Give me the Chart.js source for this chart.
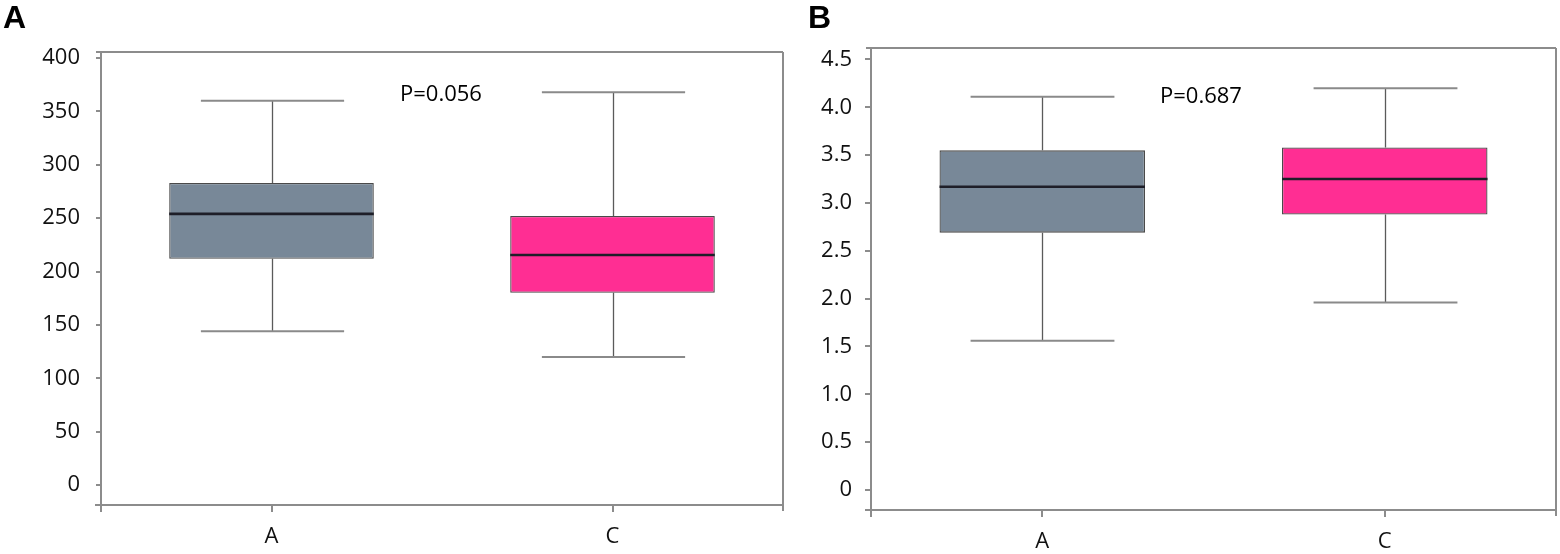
<!DOCTYPE html>
<html><head><meta charset="utf-8">
<script src="https://cdn.jsdelivr.net/npm/chart.js@4.4.1/dist/chart.umd.min.js"></script>
<style>
html,body{margin:0;padding:0;background:#fff;width:1560px;height:554px;overflow:hidden;font-family:"Open Sans",sans-serif}
.wrap{position:absolute;top:0;height:554px}
#wa{left:0;width:790px}
#wb{left:790px;width:770px}
.lbl{position:absolute;font-family:"Liberation Sans",Arial,sans-serif;font-weight:bold;font-size:32px;line-height:1;color:#000}
.pv{position:absolute;font-family:"Open Sans",sans-serif;font-size:22px;line-height:1;color:#000;white-space:nowrap}
</style></head>
<body>
<div class="wrap" id="wa"><canvas id="ca"></canvas></div>
<div class="wrap" id="wb"><canvas id="cb"></canvas></div>
<div class="lbl" style="left:3px;top:1px">A</div>
<div class="lbl" style="left:808px;top:1px">B</div>
<div class="pv" style="left:400px;top:81px">P=0.056</div>
<div class="pv" style="left:1160px;top:83px">P=0.687</div>
<script>
// ---- data ----
const categories = ['A', 'C'];
const boxColors = ['#788898', '#ff2e93'];

// Panel A
const minA    = [144, 120];
const q1A     = [212, 180];
const medianA = [254, 215.5];
const q3A     = [283, 252];
const maxA    = [360, 368];
const yTicksA = [0, 50, 100, 150, 200, 250, 300, 350, 400];
const yTickLabelsA = ['0', '50', '100', '150', '200', '250', '300', '350', '400'];

// Panel B
const minB    = [1.56, 1.96];
const q1B     = [2.69, 2.88];
const medianB = [3.17, 3.25];
const q3B     = [3.55, 3.58];
const maxB    = [4.11, 4.20];
const yTicksB = [0, 0.5, 1.0, 1.5, 2.0, 2.5, 3.0, 3.5, 4.0, 4.5];
const yTickLabelsB = ['0', '0.5', '1.0', '1.5', '2.0', '2.5', '3.0', '3.5', '4.0', '4.5'];

// ---- plugins ----
const whiskerPlugin = {
  id: 'whisk',
  beforeDatasetsDraw(chart, args, opts) {
    const {ctx} = chart, x = chart.scales.x, y = chart.scales.y;
    const half = x.width / categories.length * opts.capFrac / 2;
    ctx.save();
    opts.min.forEach((mn, i) => {
      const cx = Math.round(x.getPixelForValue(i)) + 0.5;
      ctx.strokeStyle = '#5a5a5a'; ctx.lineWidth = 1.3;
      ctx.beginPath();
      ctx.moveTo(cx, y.getPixelForValue(opts.max[i]));
      ctx.lineTo(cx, y.getPixelForValue(opts.q3[i]));
      ctx.moveTo(cx, y.getPixelForValue(opts.q1[i]));
      ctx.lineTo(cx, y.getPixelForValue(mn));
      ctx.stroke();
      ctx.strokeStyle = '#8a8a8a'; ctx.lineWidth = 2;
      ctx.beginPath();
      [opts.max[i], mn].forEach(v => {
        const py = y.getPixelForValue(v);
        ctx.moveTo(cx - half, py); ctx.lineTo(cx + half, py);
      });
      ctx.stroke();
    });
    ctx.restore();
  },
  afterDatasetsDraw(chart, args, opts) {
    const {ctx} = chart, y = chart.scales.y;
    const meta = chart.getDatasetMeta(0);
    ctx.save();
    ctx.strokeStyle = '#1e1e28'; ctx.lineWidth = 2.6;
    ctx.beginPath();
    opts.median.forEach((m, i) => {
      const bar = meta.data[i];
      const py = y.getPixelForValue(m);
      ctx.moveTo(bar.x - bar.width / 2, py); ctx.lineTo(bar.x + bar.width / 2, py);
    });
    ctx.stroke();
    const a = chart.chartArea;
    ctx.strokeStyle = '#8c8c8c'; ctx.lineWidth = 2;
    ctx.beginPath();
    ctx.moveTo(a.left - 5, a.top); ctx.lineTo(a.right, a.top);
    ctx.moveTo(a.right, a.top); ctx.lineTo(a.right, a.bottom + 6);
    ctx.moveTo(a.left - 6, a.bottom); ctx.lineTo(a.right, a.bottom);
    ctx.moveTo(a.left, a.top); ctx.lineTo(a.left, a.bottom + 7);
    ctx.stroke();
    ctx.restore();
  }
};

function makeChart(id, cfg) {
  return new Chart(document.getElementById(id), {
    type: 'bar',
    data: {
      labels: categories,
      datasets: [{
        data: cfg.q1.map((v, i) => [v, cfg.q3[i]]),
        backgroundColor: boxColors,
        borderColor: '#4a4a4a',
        borderWidth: 1.3,
        borderSkipped: false,
        barPercentage: 0.6,
        categoryPercentage: 1.0
      }]
    },
    options: {
      responsive: true,
      maintainAspectRatio: false,
      animation: false,
      devicePixelRatio: 1,
      layout: {padding: cfg.padding},
      plugins: {
        legend: {display: false},
        tooltip: {enabled: false},
        whisk: {min: cfg.min, max: cfg.max, q1: cfg.q1, q3: cfg.q3, median: cfg.median, capFrac: 0.42}
      },
      scales: {
        x: {
          offset: true,
          grid: {offset: false, drawOnChartArea: false, drawTicks: true, tickLength: 7, color: '#8c8c8c', lineWidth: 2},
          border: {display: false},
          ticks: {color: '#111', font: {family: 'Open Sans', size: 22}, padding: cfg.xPad, maxRotation: 0},
          afterFit: s => { s.height = cfg.xH; }
        },
        y: {
          min: cfg.yMin, max: cfg.yMax,
          grid: {drawOnChartArea: false, drawTicks: true, tickLength: cfg.tl, color: '#8c8c8c', lineWidth: 2},
          border: {display: false},
          afterBuildTicks: s => { s.ticks = cfg.ticks.map(v => ({value: v})); },
          ticks: {
            color: '#111', font: {family: 'Open Sans', size: 22}, padding: cfg.yPad,
            callback: (v, i) => cfg.tickLabels[i]
          },
          afterFit: s => { s.width = cfg.yW; }
        }
      }
    },
    plugins: [whiskerPlugin]
  });
}

makeChart('ca', {
  min: minA, q1: q1A, median: medianA, q3: q3A, max: maxA,
  ticks: yTicksA, tickLabels: yTickLabelsA,
  yMin: -18.7, yMax: 405.6,
  padding: {top: 52, right: 7, bottom: 0, left: 0},
  xH: 49, yW: 101, tl: 5, yPad: 16, xPad: 12
});
makeChart('cb', {
  min: minB, q1: q1B, median: medianB, q3: q3B, max: maxB,
  ticks: yTicksB, tickLabels: yTickLabelsB,
  yMin: -0.209, yMax: 4.62,
  padding: {top: 48, right: 4, bottom: 0, left: 0},
  xH: 44, yW: 81, tl: 6, yPad: 13, xPad: 12
});
</script>
</body></html>
